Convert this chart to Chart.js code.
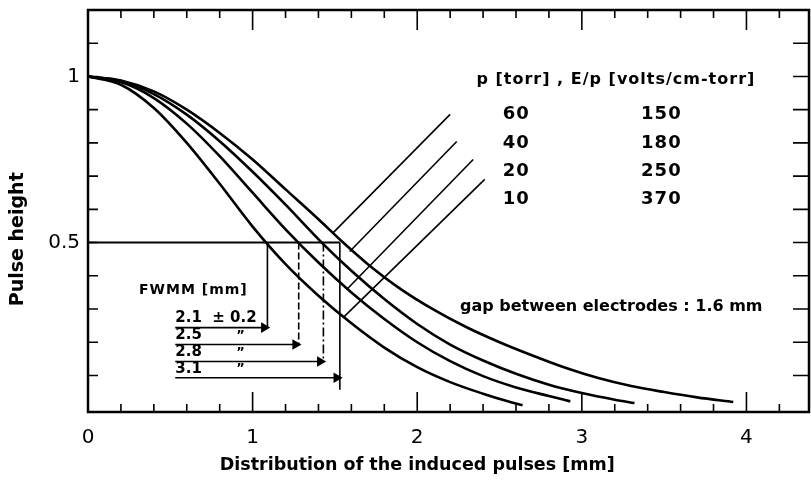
<!DOCTYPE html>
<html>
<head>
<meta charset="utf-8">
<script src="https://cdn.jsdelivr.net/npm/chart.js@4.4.1/dist/chart.umd.min.js"></script>
<style>
  html, body { margin: 0; padding: 0; background: #fff; }
  #wrap { width: 811px; height: 481px; }
</style>
</head>
<body>
<div id="wrap"><canvas id="chart" width="811" height="481"></canvas></div>
<script>
// legend rows: pressure [torr] and E/p [volts/cm-torr]
const pressureTorr = ["60", "40", "20", "10"];
const fieldRatio = ["150", "180", "250", "370"];

// measured pulse height curves, narrowest to widest
const curve1X = [0, 0.2, 0.4, 0.6, 0.8, 1.0, 1.2, 1.4, 1.6, 1.8, 2.0, 2.2, 2.4, 2.55, 2.64];
const curve1Y = [1, 0.975, 0.905, 0.8, 0.677, 0.548, 0.435, 0.34, 0.257, 0.184, 0.125, 0.08, 0.045, 0.022, 0.01];
const curve2X = [0, 0.2, 0.4, 0.6, 0.8, 1.0, 1.2, 1.4, 1.6, 1.8, 2.0, 2.2, 2.4, 2.6, 2.8, 2.93];
const curve2Y = [1, 0.983, 0.935, 0.858, 0.76, 0.65, 0.54, 0.44, 0.35, 0.27, 0.2, 0.143, 0.098, 0.064, 0.038, 0.022];
const curve3X = [0, 0.2, 0.4, 0.6, 0.8, 1.0, 1.2, 1.42, 1.6, 1.8, 2.0, 2.2, 2.4, 2.6, 2.8, 3.0, 3.2, 3.32];
const curve3Y = [1, 0.986, 0.947, 0.885, 0.805, 0.713, 0.614, 0.5, 0.415, 0.33, 0.255, 0.193, 0.145, 0.105, 0.072, 0.047, 0.027, 0.017];
const curve4X = [0, 0.2, 0.4, 0.6, 0.8, 1.0, 1.2, 1.4, 1.55, 1.7, 1.9, 2.1, 2.3, 2.5, 2.7, 2.9, 3.1, 3.3, 3.5, 3.7, 3.92];
const curve4Y = [1, 0.988, 0.955, 0.9, 0.83, 0.75, 0.66, 0.57, 0.5, 0.435, 0.36, 0.298, 0.245, 0.2, 0.16, 0.123, 0.092, 0.068, 0.05, 0.034, 0.02];

// FWHM construction: half-max line, drop lines and arrows
const halfMax = 0.5;
const halfMaxEnd = 1.53;
const fwhmLabels = ["2.1  \u00b1 0.2", "2.5", "2.8", "3.1"];
const dropX = [1.09, 1.28, 1.43, 1.53];
const dropBottom = [0.244, 0.193, 0.142, 0.057];
const arrowStart = 0.53;
const arrowY = [0.244, 0.193, 0.142, 0.093];

// leader lines from the curves up to the legend rows
const leaderStartX = [1.49, 1.59, 1.57, 1.55];
const leaderStartY = [0.53, 0.473, 0.358, 0.274];
const leaderEndX = [2.2, 2.24, 2.34, 2.41];
const leaderEndY = [0.886, 0.804, 0.75, 0.69];

// axis ticks
const xTickValues = [0, 1, 2, 3, 4];
const xMinorTicks = [0.2, 0.4, 0.6, 0.8, 1.2, 1.4, 1.6, 1.8, 2.2, 2.4, 2.6, 2.8, 3.2, 3.4, 3.6, 3.8, 4.2];
const yTickValues = [0.5, 1];
const yMinorTicks = [0.1, 0.2, 0.3, 0.4, 0.5, 0.6, 0.7, 0.8, 0.9, 1.0, 1.1];

const xTitle = "Distribution of the induced pulses [mm]";
const yTitle = "Pulse height";

const FONT = "'DejaVu Sans', sans-serif";

function toPoints(xs, ys) {
  return xs.map((x, i) => ({ x, y: ys[i] }));
}

function lineDataset(points, width, dash) {
  return {
    data: points,
    showLine: true,
    borderColor: "#000",
    backgroundColor: "#000",
    borderWidth: width,
    borderDash: dash || [],
    pointRadius: 0,
    tension: 0,
  };
}

const datasets = [];

[[curve1X, curve1Y], [curve2X, curve2Y], [curve3X, curve3Y], [curve4X, curve4Y]].forEach(([xs, ys]) => {
  const ds = lineDataset(toPoints(xs, ys), 2.6);
  ds.cubicInterpolationMode = "monotone";
  datasets.push(ds);
});

datasets.push(lineDataset([{ x: 0, y: halfMax }, { x: halfMaxEnd, y: halfMax }], 2));

const dropDash = [[], [7, 3], [9, 3, 2, 3], []];
dropX.forEach((x, i) => {
  datasets.push(lineDataset([{ x, y: halfMax }, { x, y: dropBottom[i] }], 1.6, dropDash[i]));
});

arrowY.forEach((y, i) => {
  const ds = lineDataset([{ x: arrowStart, y }, { x: dropX[i] - 0.02, y }], 1.6);
  ds.pointStyle = "triangle";
  ds.pointRadius = [0, 4.5];
  ds.rotation = 90;
  datasets.push(ds);
});

leaderStartX.forEach((x, i) => {
  datasets.push(lineDataset([{ x, y: leaderStartY[i] }, { x: leaderEndX[i], y: leaderEndY[i] }], 1.6));
});

// box, inward ticks, axis titles and annotation text
const framePlugin = {
  id: "frame",
  afterDatasetsDraw(chart) {
    const { ctx, chartArea: a } = chart;
    const xs = chart.scales.x;
    const ys = chart.scales.y;
    ctx.save();
    ctx.strokeStyle = "#000";
    ctx.lineWidth = 2.5;
    ctx.strokeRect(a.left, a.top, a.right - a.left, a.bottom - a.top);

    ctx.lineWidth = 1.6;
    ctx.beginPath();
    const vTick = (v, len) => {
      const px = xs.getPixelForValue(v);
      ctx.moveTo(px, a.bottom);
      ctx.lineTo(px, a.bottom - len);
      ctx.moveTo(px, a.top);
      ctx.lineTo(px, a.top + len);
    };
    xMinorTicks.forEach((v) => vTick(v, 8));
    xTickValues.slice(1).forEach((v) => vTick(v, 20));
    yMinorTicks.forEach((v) => {
      const py = ys.getPixelForValue(v);
      ctx.moveTo(a.left, py);
      ctx.lineTo(a.left + 10, py);
      ctx.moveTo(a.right, py);
      ctx.lineTo(a.right - 16, py);
    });
    ctx.stroke();

    ctx.fillStyle = "#000";
    ctx.textBaseline = "middle";

    // axis titles, centred on x = 2 mm and y = 0.5
    ctx.textAlign = "center";
    ctx.font = `bold 17.5px ${FONT}`;
    ctx.fillText(xTitle, xs.getPixelForValue(2), 465);
    ctx.save();
    ctx.translate(18, ys.getPixelForValue(0.51));
    ctx.rotate(-Math.PI / 2);
    ctx.font = `bold 19px ${FONT}`;
    ctx.fillText(yTitle, 0, 0);
    ctx.restore();

    ctx.textAlign = "left";
    const text = (str, vx, vy, size, spacing) => {
      ctx.font = `bold ${size}px ${FONT}`;
      ctx.letterSpacing = `${spacing || 0}px`;
      ctx.fillText(str, xs.getPixelForValue(vx), ys.getPixelForValue(vy));
    };

    text("p [torr] , E/p [volts/cm-torr]", 2.36, 0.99, 16, 1);
    const rowY = [0.886, 0.8, 0.714, 0.63];
    pressureTorr.forEach((p, i) => {
      text(p, 2.52, rowY[i], 18, 1);
      text(fieldRatio[i], 3.36, rowY[i], 18, 1);
    });

    text("gap between electrodes : 1.6 mm", 2.26, 0.307, 16, 0);
    text("FWMM [mm]", 0.31, 0.355, 14, 1);
    text(fwhmLabels[0], 0.53, 0.274, 15, 0);
    const labelY = [0.274, 0.22, 0.169, 0.12];
    fwhmLabels.slice(1).forEach((s, i) => {
      text(s, 0.53, labelY[i + 1], 15, 0);
      text("\u201d", 0.9, labelY[i + 1], 13, 0);
    });
    ctx.restore();
  },
};

new Chart(document.getElementById("chart"), {
  type: "scatter",
  data: { datasets },
  options: {
    responsive: false,
    animation: false,
    layout: { autoPadding: false, padding: { top: 10, right: 2, left: 0, bottom: 0 } },
    plugins: { legend: { display: false }, tooltip: { enabled: false } },
    scales: {
      x: {
        type: "linear",
        min: 0,
        max: 4.38,
        afterBuildTicks: (s) => { s.ticks = xTickValues.map((value) => ({ value })); },
        afterFit: (s) => {
          s.height = 69;
          s.paddingLeft = 0;
          s.paddingRight = 0;
        },
        grid: { display: false, drawTicks: false },
        border: { display: false },
        ticks: { color: "#000", padding: 14, font: { family: FONT, size: 20 }, callback: (v) => String(v) },
        title: { display: false },
      },
      y: {
        type: "linear",
        min: -0.01,
        max: 1.2,
        afterBuildTicks: (s) => { s.ticks = yTickValues.map((value) => ({ value })); },
        afterFit: (s) => {
          s.width = 88;
          s.paddingTop = 0;
          s.paddingBottom = 0;
        },
        grid: { display: false, drawTicks: false },
        border: { display: false },
        ticks: { color: "#000", padding: 8, font: { family: FONT, size: 20 }, callback: (v) => String(v) },
        title: { display: false },
      },
    },
  },
  plugins: [framePlugin],
});
</script>
</body>
</html>
